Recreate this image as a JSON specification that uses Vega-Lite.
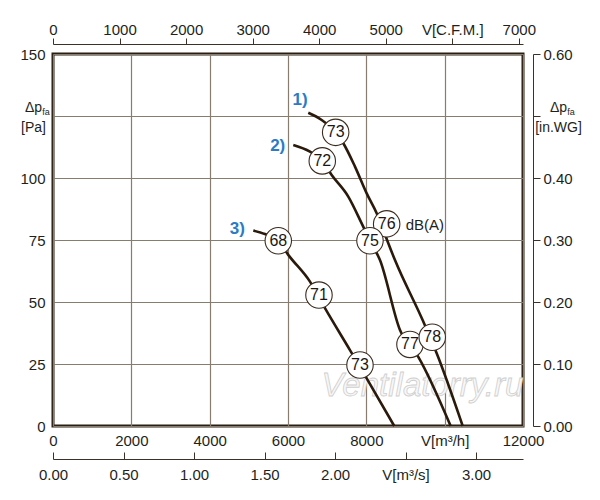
{
  "$schema": "https://vega.github.io/schema/vega-lite/v6.json",
  "width": 470,
  "height": 372,
  "autosize": {"type": "none"},
  "padding": {"left": 53, "top": 54, "right": 77, "bottom": 74},
  "background": "white",
  "config": {
    "view": {"stroke": "#2a1e12", "strokeWidth": 3},
    "font": "Liberation Sans",
    "axis": {
      "labelFont": "Liberation Sans",
      "labelFontSize": 15,
      "labelColor": "#231f1b",
      "gridColor": "#877c70",
      "gridWidth": 1.2,
      "gridOpacity": 1,
      "domainColor": "#3b3128",
      "tickColor": "#3b3128",
      "labelFlush": false,
      "labelOverlap": false
    }
  },
  "datasets": {
    "curves": [
      {"curve": "1", "V": 6518, "p": 126.3},
      {"curve": "1", "V": 6860, "p": 123.4},
      {"curve": "1", "V": 7217, "p": 118.4},
      {"curve": "1", "V": 7412, "p": 114.0},
      {"curve": "1", "V": 7710, "p": 104.6},
      {"curve": "1", "V": 8009, "p": 93.8},
      {"curve": "1", "V": 8264, "p": 85.8},
      {"curve": "1", "V": 8480, "p": 77.0},
      {"curve": "1", "V": 8731, "p": 66.9},
      {"curve": "1", "V": 9454, "p": 42.1},
      {"curve": "1", "V": 9796, "p": 29.3},
      {"curve": "1", "V": 10460, "p": 0},
      {"curve": "2", "V": 6135, "p": 113.3},
      {"curve": "2", "V": 6561, "p": 110.6},
      {"curve": "2", "V": 6875, "p": 106.9},
      {"curve": "2", "V": 7115, "p": 101.2},
      {"curve": "2", "V": 7539, "p": 92.5},
      {"curve": "2", "V": 7881, "p": 81.7},
      {"curve": "2", "V": 8093, "p": 74.7},
      {"curve": "2", "V": 8348, "p": 66.9},
      {"curve": "2", "V": 8859, "p": 38.7},
      {"curve": "2", "V": 9326, "p": 27.9},
      {"curve": "2", "V": 10153, "p": 0},
      {"curve": "3", "V": 5114, "p": 78.8},
      {"curve": "3", "V": 5412, "p": 77.4},
      {"curve": "3", "V": 5752, "p": 74.7},
      {"curve": "3", "V": 6007, "p": 69.0},
      {"curve": "3", "V": 6561, "p": 58.2},
      {"curve": "3", "V": 6944, "p": 47.5},
      {"curve": "3", "V": 7582, "p": 30.6},
      {"curve": "3", "V": 8009, "p": 19.2},
      {"curve": "3", "V": 8713, "p": 0}
    ],
    "circles": [
      {"curve": "1", "V": 7217, "p": 118.4, "dB": "73"},
      {"curve": "1", "V": 8519, "p": 81.5, "dB": "76"},
      {"curve": "2", "V": 6875, "p": 106.9, "dB": "72"},
      {"curve": "2", "V": 8093, "p": 74.7, "dB": "75"},
      {"curve": "2", "V": 9114, "p": 32.9, "dB": "77"},
      {"curve": "1", "V": 9683, "p": 35.8, "dB": "78"},
      {"curve": "3", "V": 5752, "p": 74.7, "dB": "68"},
      {"curve": "3", "V": 6791, "p": 52.8, "dB": "71"},
      {"curve": "3", "V": 7838, "p": 24.6, "dB": "73"}
    ],
    "tags": [
      {"V": 6306, "p": 131.5, "tag": "1)"},
      {"V": 5737, "p": 113.0, "tag": "2)"},
      {"V": 4705, "p": 79.4, "tag": "3)"}
    ]
  },
  "resolve": {"axis": {"x": "independent", "y": "independent"}},
  "layer": [
    {
      "data": {"values": [{"V": 9433, "p": 16, "note": "Ventilatorry.ru"}]},
      "mark": {"type": "text", "fontSize": 33, "fontStyle": "italic", "fill": "#f7f7f7", "stroke": "#cfcfcf", "strokeWidth": 0.8, "baseline": "middle", "align": "center"},
      "encoding": {
        "x": {
          "field": "V", "type": "quantitative",
          "scale": {"domain": [0, 12000], "nice": false, "zero": false},
          "axis": {
            "orient": "bottom", "title": null,
            "values": [0, 2000, 4000, 6000, 8000, 10000, 12000],
            "grid": true, "ticks": false, "domain": false, "labelPadding": 7,
            "labelExpr": "datum.value == 10000 ? 'V[m³/h]' : format(datum.value, 'd')"
          }
        },
        "y": {
          "field": "p", "type": "quantitative",
          "scale": {"domain": [0, 150], "nice": false, "zero": false},
          "axis": {
            "orient": "left", "title": null,
            "values": [0, 25, 50, 75, 100, 125, 150],
            "grid": true, "ticks": false, "domain": false,
            "labelPadding": {"condition": {"test": "datum.value == 125", "value": 20}, "value": 8},
            "labelAlign": {"condition": {"test": "datum.value == 125", "value": "center"}, "value": "right"},
            "labelOffset": {"condition": {"test": "datum.value == 125", "value": -9}, "value": 0},
            "labelLineHeight": 20,
            "labelFontSize": {"condition": {"test": "datum.value == 125", "value": 14}, "value": 15},
            "labelExpr": "datum.value == 125 ? ['Δp\u00a0\u00a0', '[Pa]'] : format(datum.value, 'd')"
          }
        },
        "text": {"field": "note"}
      }
    },
    {
      "data": {"name": "curves"},
      "mark": {"type": "line", "interpolate": "monotone", "color": "#2a1a0c", "strokeWidth": 2.6},
      "encoding": {
        "x": {"field": "V", "type": "quantitative", "axis": null},
        "y": {"field": "p", "type": "quantitative", "axis": null},
        "detail": {"field": "curve"}
      }
    },
    {
      "data": {"name": "circles"},
      "mark": {"type": "point", "shape": "circle", "filled": true, "fill": "white", "stroke": "#3a2c1e", "strokeWidth": 1.1, "size": 700, "opacity": 1},
      "encoding": {
        "x": {
          "field": "V", "type": "quantitative",
          "axis": {
            "orient": "top", "title": null, "offset": 10,
            "values": [0, 1699.01, 3398.02, 5097.03, 6796.04, 8495.05, 10194.06, 11893.08],
            "grid": false, "ticks": true, "tickSize": 6, "domain": true, "labelPadding": 1,
            "labelExpr": "round(datum.value / 1.69901) == 6000 ? 'V[C.F.M.]' : format(round(datum.value / 1.69901), 'd')"
          }
        },
        "y": {
          "field": "p", "type": "quantitative",
          "axis": {
            "orient": "right", "title": null, "offset": 10,
            "values": [0, 25, 50, 75, 100, 125, 150],
            "grid": false, "ticks": true, "tickSize": 7, "domain": true,
            "labelPadding": {"condition": {"test": "datum.value == 125", "value": 18}, "value": 3},
            "labelAlign": {"condition": {"test": "datum.value == 125", "value": "center"}, "value": "left"},
            "labelOffset": {"condition": {"test": "datum.value == 125", "value": -9}, "value": 0},
            "labelLineHeight": 20,
            "labelFontSize": {"condition": {"test": "datum.value == 125", "value": 14}, "value": 15},
            "labelExpr": "datum.value == 125 ? ['Δp\u00a0\u00a0', '[in.WG]'] : format(datum.value / 250, '.2f')"
          }
        }
      }
    },
    {
      "data": {"name": "circles"},
      "mark": {"type": "text", "fontSize": 16, "color": "#1c1712", "baseline": "middle", "align": "center"},
      "encoding": {
        "x": {
          "field": "V", "type": "quantitative",
          "axis": {
            "orient": "bottom", "title": null, "offset": 33,
            "values": [0, 1800, 3600, 5400, 7200, 9000, 10800],
            "grid": false, "ticks": true, "tickSize": -7, "domain": true, "labelPadding": 15,
            "labelExpr": "datum.value == 9000 ? 'V[m³/s]' : format(datum.value / 3600, '.2f')"
          }
        },
        "y": {"field": "p", "type": "quantitative", "axis": null},
        "text": {"field": "dB"}
      }
    },
    {
      "data": {"name": "tags"},
      "mark": {"type": "text", "fontSize": 17, "fontWeight": "bold", "color": "#2c7bc4", "baseline": "middle", "align": "center"},
      "encoding": {
        "x": {"field": "V", "type": "quantitative", "axis": null},
        "y": {"field": "p", "type": "quantitative", "axis": null},
        "text": {"field": "tag"}
      }
    },
    {
      "data": {"values": [{"V": 9004, "p": 81, "note": "dB(A)"}]},
      "mark": {"type": "text", "fontSize": 15, "color": "#231f1b", "baseline": "middle", "align": "left"},
      "encoding": {
        "x": {"field": "V", "type": "quantitative", "axis": null},
        "y": {"field": "p", "type": "quantitative", "axis": null},
        "text": {"field": "note"}
      }
    },
    {
      "data": {"values": [{"V": 0, "p": 125, "sub": "fa"}]},
      "mark": {"type": "text", "fontSize": 9, "color": "#231f1b", "baseline": "middle", "align": "center", "dx": -7, "dy": -4},
      "encoding": {
        "x": {"field": "V", "type": "quantitative", "axis": null},
        "y": {"field": "p", "type": "quantitative", "axis": null},
        "text": {"field": "sub"}
      }
    },
    {
      "data": {"values": [{"V": 12000, "p": 125, "sub": "fa"}]},
      "mark": {"type": "text", "fontSize": 9, "color": "#231f1b", "baseline": "middle", "align": "center", "dx": 48, "dy": -4},
      "encoding": {
        "x": {"field": "V", "type": "quantitative", "axis": null},
        "y": {"field": "p", "type": "quantitative", "axis": null},
        "text": {"field": "sub"}
      }
    }
  ]
}
